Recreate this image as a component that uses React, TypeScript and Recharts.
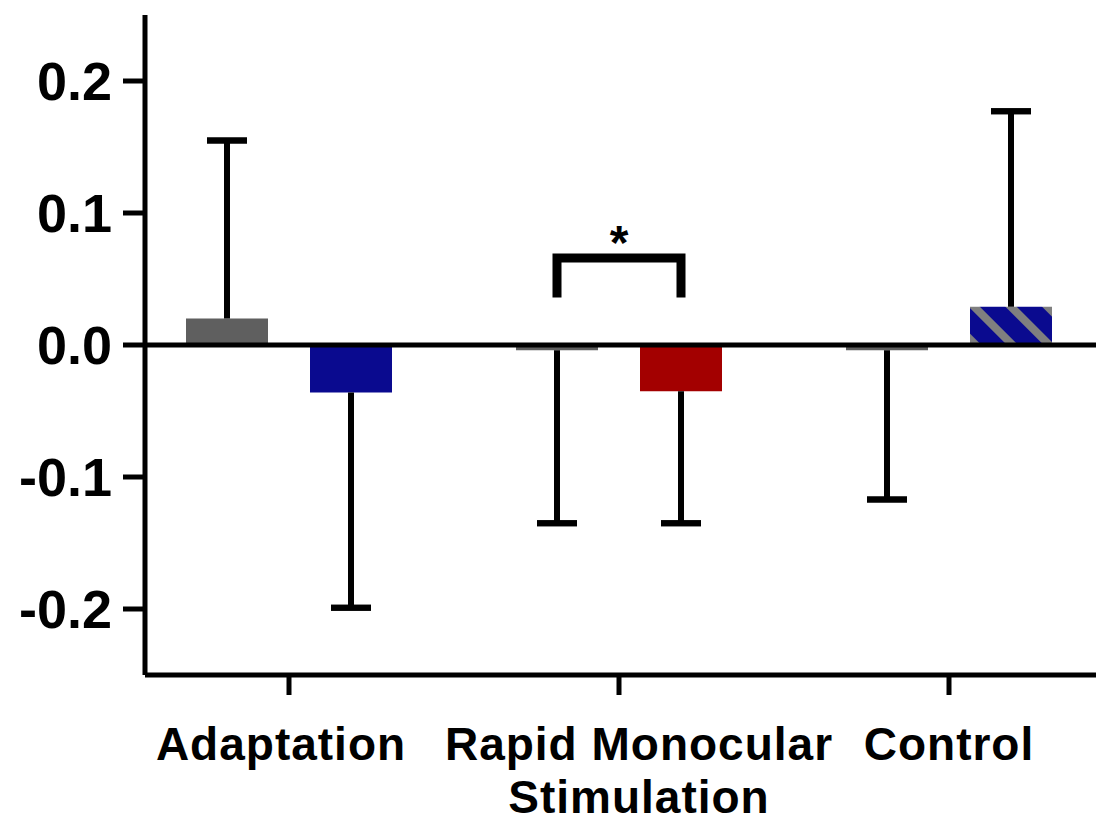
import { Bar, BarChart, Cell, ErrorBar, ReferenceLine, XAxis, YAxis } from 'recharts'

const CATEGORIES = ['Adaptation', 'Rapid Monocular Stimulation', 'Control']
const TICK_LINES = [['Adaptation'], ['Rapid Monocular', 'Stimulation'], ['Control']]

// left bar of each group (grey) and right bar (blue / red / hatched blue)
const FIRST_MEAN = [0.02, -0.004, -0.004]
const FIRST_END = [0.155, -0.135, -0.117]
const SECOND_MEAN = [-0.036, -0.035, 0.029]
const SECOND_END = [-0.199, -0.135, 0.177]

// significance bracket, only over Rapid Monocular Stimulation
const BRACKET: ([number, number] | null)[] = [null, [0.036, 0.066], null]

const Y_TICKS = [-0.2, -0.1, 0, 0.1, 0.2]

const GRAY = '#5f5f5f'
const SECOND_COLORS = ['#0a0a8f', '#a30000', 'url(#hatchBlue)']
const FONT = '"Liberation Sans", Arial, Helvetica, sans-serif'
// the original labels sit a little off their ticks
const LABEL_SHIFT = [-8, 20, 0]

// whisker goes only away from zero: [below, above]
const whisker = (mean: number, end: number) => (end > mean ? [0, end - mean] : [mean - end, 0])

const data = CATEGORIES.map((name, i) => ({
  name,
  first: FIRST_MEAN[i],
  firstErr: whisker(FIRST_MEAN[i], FIRST_END[i]),
  firstEnd: FIRST_END[i],
  second: SECOND_MEAN[i],
  secondErr: whisker(SECOND_MEAN[i], SECOND_END[i]),
  secondEnd: SECOND_END[i],
  cap: [0, 0],
  bracket: BRACKET[i],
}))

function CategoryTick({ x, y, payload }: any) {
  const idx = CATEGORIES.indexOf(payload.value)
  const lines = TICK_LINES[idx] ?? [payload.value]
  const cx = x + (LABEL_SHIFT[idx] ?? 0)
  return (
    <text x={cx} y={y} textAnchor="middle" fontSize={46} fontWeight={700} fill="#000" letterSpacing={1} fontFamily={FONT}>
      {lines.map((line, i) => (
        <tspan key={i} x={cx} dy={i === 0 ? 63 : 53}>
          {line}
        </tspan>
      ))}
    </text>
  )
}

function BracketShape({ x, y, width, height, payload }: any) {
  if (!payload?.bracket) return null
  const top = Math.min(y, y + height)
  const bottom = Math.max(y, y + height)
  return (
    <g>
      <path
        d={`M${x},${bottom} L${x},${top} L${x + width},${top} L${x + width},${bottom}`}
        fill="none"
        stroke="#000"
        strokeWidth={9}
        strokeLinejoin="miter"
      />
      <text x={x + width / 2} y={top + 1} textAnchor="middle" fontSize={48} fontWeight={700} fill="#000" fontFamily={FONT}>
        *
      </text>
    </g>
  )
}

export default function App() {
  return (
    <div style={{ position: 'absolute', left: 0, top: 0, background: '#fff' }}>
      <BarChart
        width={1096}
        height={823}
        data={data}
        margin={{ top: 15, right: 0, left: 0, bottom: 0 }}
        barSize={82}
        barGap={42}
        style={{ fontFamily: FONT }}
      >
        <defs>
          <pattern id="hatchBlue" patternUnits="userSpaceOnUse" width={26} height={26} patternTransform="rotate(-45)">
            <rect x={0} y={0} width={26} height={26} fill="#0a0a8f" />
            <rect x={0} y={0} width={8} height={26} fill="#7f7f7f" />
          </pattern>
        </defs>
        <XAxis
          dataKey="name"
          height={148}
          padding={{ left: -21, right: -18 }}
          axisLine={{ stroke: '#000', strokeWidth: 5 }}
          tickLine={{ stroke: '#000', strokeWidth: 5 }}
          tickSize={20}
          tick={<CategoryTick />}
          interval={0}
        />
        <XAxis xAxisId="caps" dataKey="name" hide padding={{ left: -21, right: -18 }} />
        <XAxis xAxisId="bracket" dataKey="name" hide padding={{ left: -21, right: -18 }} />
        <YAxis
          width={145}
          domain={[-0.25, 0.25]}
          ticks={Y_TICKS}
          allowDataOverflow
          tickFormatter={(v: number) => v.toFixed(1)}
          axisLine={{ stroke: '#000', strokeWidth: 5 }}
          tickLine={{ stroke: '#000', strokeWidth: 5 }}
          tickSize={22}
          tickMargin={11}
          tick={{ fontSize: 54, fontWeight: 700, fill: '#000', fontFamily: FONT }}
        />
        <Bar dataKey="first" fill={GRAY} isAnimationActive={false}>
          <ErrorBar dataKey="firstErr" width={0} stroke="#000" strokeWidth={6} isAnimationActive={false} />
        </Bar>
        <Bar dataKey="second" isAnimationActive={false}>
          {data.map((_, i) => (
            <Cell key={i} fill={SECOND_COLORS[i]} />
          ))}
          <ErrorBar dataKey="secondErr" width={0} stroke="#000" strokeWidth={6} isAnimationActive={false} />
        </Bar>
        <Bar xAxisId="caps" dataKey="firstEnd" fill="none" isAnimationActive={false}>
          <ErrorBar dataKey="cap" width={20} stroke="#000" strokeWidth={6} isAnimationActive={false} />
        </Bar>
        <Bar xAxisId="caps" dataKey="secondEnd" fill="none" isAnimationActive={false}>
          <ErrorBar dataKey="cap" width={20} stroke="#000" strokeWidth={6} isAnimationActive={false} />
        </Bar>
        <Bar xAxisId="bracket" dataKey="bracket" barSize={124} shape={<BracketShape />} isAnimationActive={false} />
        <ReferenceLine y={0} stroke="#000" strokeWidth={5} />
      </BarChart>
    </div>
  )
}
